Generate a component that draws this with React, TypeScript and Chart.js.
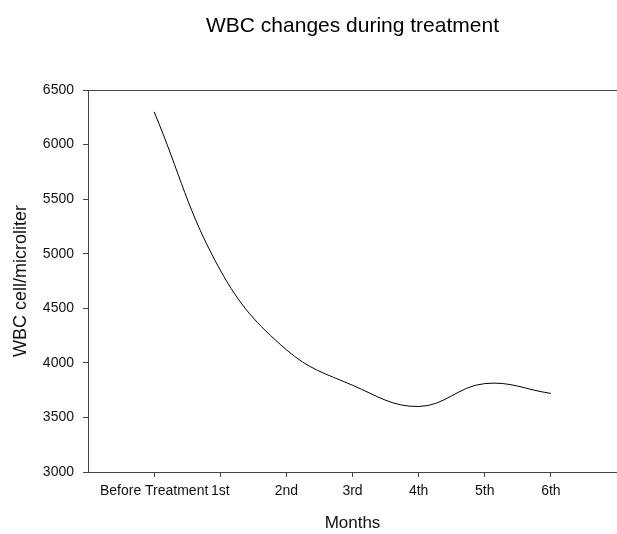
import React, { useEffect, useRef } from "react";
import { Chart, registerables } from "chart.js";

Chart.register(...registerables);

const categories = ["Before Treatment", "1st", "2nd", "3rd", "4th", "5th", "6th"];
const wbcValues = [6300, 4850, 4120, 3795, 3600, 3810, 3720];
const yTicks = [3000, 3500, 4000, 4500, 5000, 5500, 6000, 6500];

const FONT = "'Liberation Sans', Arial, sans-serif";

const titlePlugin = {
  id: "customTitle",
  afterDraw(chart: any) {
    const { ctx, chartArea } = chart;
    ctx.save();
    ctx.strokeStyle = "#444";
    ctx.lineWidth = 1;
    ctx.beginPath();
    ctx.moveTo(chartArea.left, chartArea.top + 0.5);
    ctx.lineTo(chartArea.right, chartArea.top + 0.5);
    ctx.stroke();
    ctx.fillStyle = "#000";
    ctx.font = `21px ${FONT}`;
    ctx.textAlign = "center";
    ctx.textBaseline = "middle";
    ctx.fillText("WBC changes during treatment", (chartArea.left + chartArea.right) / 2, 26);
    ctx.restore();
  },
};

export default function App() {
  const ref = useRef<HTMLCanvasElement | null>(null);
  useEffect(() => {
    document.body.style.margin = "0";
    if (!ref.current) return;
    const chart = new Chart(ref.current, {
      type: "line",
      data: {
        datasets: [
          {
            data: wbcValues.map((v, i) => ({ x: i, y: v })),
            borderColor: "#000",
            borderWidth: 1,
            pointRadius: 0,
            tension: 0.4,
            fill: false,
          },
        ],
      },
      options: {
        animation: false,
        responsive: true,
        maintainAspectRatio: false,
        layout: { padding: { top: 90, left: 0, right: 0, bottom: 0 } },
        plugins: { legend: { display: false }, tooltip: { enabled: false }, title: { display: false } },
        scales: {
          x: {
            type: "linear",
            min: -1,
            max: 7,
            afterBuildTicks: (scale: any) => {
              scale.ticks = categories.map((_, i) => ({ value: i }));
            },
            afterFit: (scale: any) => {
              scale.height = 62;
            },
            ticks: {
              autoSkip: false,
              maxRotation: 0,
              padding: 6,
              color: "#111",
              font: { family: FONT, size: 14 },
              callback: (v: any) => categories[v] ?? "",
            },
            grid: { drawOnChartArea: false, tickLength: 5, color: "#444" },
            border: { color: "#444", width: 1 },
            title: {
              display: true,
              text: "Months",
              color: "#111",
              font: { family: FONT, size: 17 },
              padding: { top: 0, bottom: 0 },
            },
          },
          y: {
            type: "linear",
            min: 3000,
            max: 6500,
            afterBuildTicks: (scale: any) => {
              scale.ticks = yTicks.map((v) => ({ value: v }));
            },
            afterFit: (scale: any) => {
              scale.width = 88;
            },
            ticks: {
              padding: 9,
              color: "#111",
              font: { family: FONT, size: 14 },
              callback: (v: any) => String(v),
            },
            grid: { drawOnChartArea: false, tickLength: 5, color: "#444" },
            border: { color: "#444", width: 1 },
            title: {
              display: true,
              text: "WBC cell/microliter",
              color: "#111",
              font: { family: FONT, size: 18 },
              padding: { top: 10, bottom: 0 },
            },
          },
        },
      },
      plugins: [titlePlugin],
    } as any);
    return () => chart.destroy();
  }, []);
  return (
    <div style={{ width: 617, height: 534, position: "relative" }}>
      <canvas ref={ref} />
    </div>
  );
}
